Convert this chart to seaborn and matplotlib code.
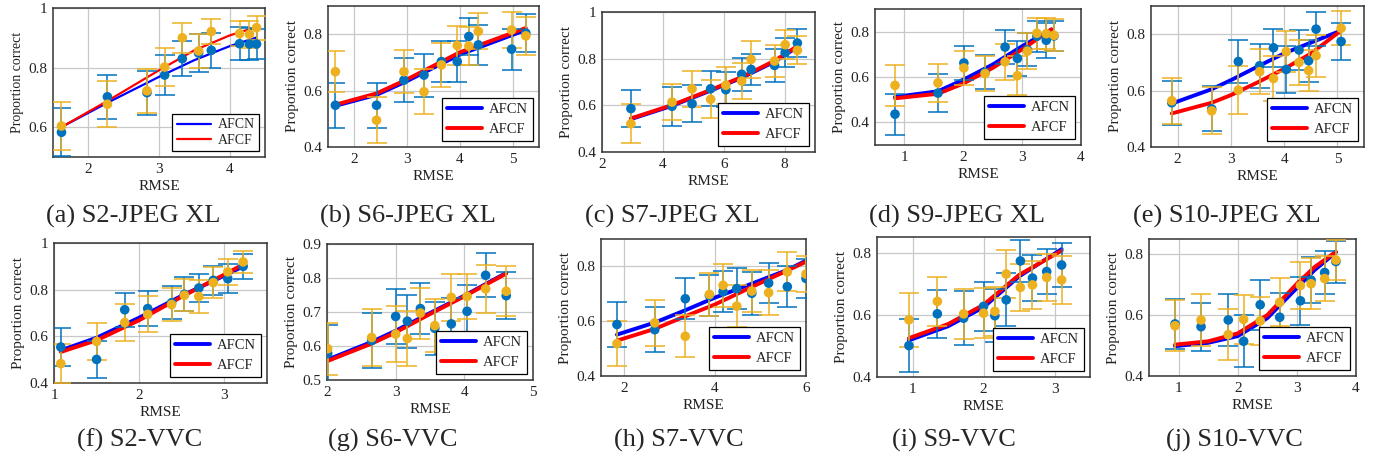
import matplotlib
matplotlib.use("Agg")
import matplotlib.pyplot as plt
from matplotlib.ticker import FuncFormatter
import seaborn as sns

# ---- data (x = RMSE, y = proportion correct) ----
a_rmse = [1.62, 2.27, 2.83, 3.08, 3.33, 3.56, 3.74, 4.14, 4.28, 4.38]
a_afcn = [0.583, 0.702, 0.716, 0.775, 0.830, 0.849, 0.858, 0.880, 0.879, 0.879]
a_afcn_err = [0.080, 0.073, 0.074, 0.067, 0.059, 0.063, 0.059, 0.055, 0.055, 0.050]
a_afcf = [0.604, 0.677, 0.722, 0.802, 0.900, 0.856, 0.921, 0.914, 0.912, 0.934]
a_afcf_err = [0.080, 0.077, 0.074, 0.063, 0.050, 0.057, 0.042, 0.042, 0.045, 0.040]
a_fit_rmse = [1.64, 2.27, 3.0, 3.5, 4.0, 4.38]
a_fit_afcn = [0.603, 0.682, 0.769, 0.825, 0.872, 0.901]
a_fit_afcf = [0.603, 0.688, 0.791, 0.858, 0.908, 0.936]

b_rmse = [1.64, 2.42, 2.94, 3.32, 3.65, 3.95, 4.17, 4.35, 4.98, 5.25]
b_afcn = [0.548, 0.548, 0.637, 0.655, 0.703, 0.703, 0.792, 0.762, 0.747, 0.804]
b_afcn_err = [0.080, 0.080, 0.078, 0.076, 0.074, 0.074, 0.065, 0.071, 0.073, 0.068]
b_afcf = [0.667, 0.495, 0.667, 0.596, 0.691, 0.760, 0.758, 0.810, 0.815, 0.794]
b_afcf_err = [0.072, 0.081, 0.077, 0.079, 0.078, 0.069, 0.067, 0.064, 0.064, 0.068]
b_fit_rmse = [1.64, 2.42, 3.0, 4.0, 5.25]
b_fit_afcn = [0.546, 0.585, 0.634, 0.728, 0.815]
b_fit_afcf = [0.550, 0.590, 0.640, 0.736, 0.822]

c_rmse = [2.95, 4.30, 4.96, 5.57, 6.07, 6.59, 6.90, 7.67, 8.02, 8.42]
c_afcn = [0.586, 0.596, 0.607, 0.671, 0.667, 0.733, 0.754, 0.771, 0.826, 0.867]
c_afcn_err = [0.081, 0.084, 0.079, 0.075, 0.076, 0.071, 0.066, 0.069, 0.063, 0.061]
c_afcf = [0.521, 0.614, 0.671, 0.626, 0.686, 0.704, 0.797, 0.790, 0.860, 0.836]
c_afcf_err = [0.084, 0.079, 0.077, 0.082, 0.079, 0.076, 0.079, 0.068, 0.061, 0.060]
c_fit_rmse = [2.95, 4.30, 5.57, 6.59, 7.67, 8.42]
c_fit_afcn = [0.541, 0.598, 0.663, 0.718, 0.787, 0.850]
c_fit_afcf = [0.544, 0.601, 0.666, 0.721, 0.791, 0.854]

d_rmse = [0.84, 1.57, 2.01, 2.37, 2.71, 2.92, 3.09, 3.25, 3.41, 3.54]
d_afcn = [0.436, 0.529, 0.662, 0.620, 0.732, 0.682, 0.720, 0.780, 0.762, 0.781]
d_afcn_err = [0.090, 0.084, 0.074, 0.075, 0.076, 0.078, 0.072, 0.068, 0.076, 0.065]
d_afcf = [0.563, 0.574, 0.640, 0.615, 0.667, 0.606, 0.714, 0.793, 0.791, 0.784]
d_afcf_err = [0.092, 0.085, 0.076, 0.078, 0.080, 0.085, 0.079, 0.069, 0.069, 0.070]
d_fit_rmse = [0.84, 1.57, 2.0, 2.5, 3.0, 3.5]
d_fit_afcn = [0.512, 0.537, 0.588, 0.655, 0.736, 0.810]
d_fit_afcf = [0.506, 0.526, 0.571, 0.640, 0.722, 0.810]

e_rmse = [1.89, 2.64, 3.14, 3.54, 3.80, 4.04, 4.28, 4.46, 4.60, 5.07]
e_afcn = [0.557, 0.535, 0.703, 0.688, 0.752, 0.675, 0.744, 0.706, 0.818, 0.774]
e_afcn_err = [0.078, 0.080, 0.077, 0.079, 0.068, 0.082, 0.071, 0.074, 0.059, 0.066]
e_afcf = [0.564, 0.528, 0.602, 0.667, 0.643, 0.738, 0.700, 0.671, 0.724, 0.821]
e_afcf_err = [0.082, 0.083, 0.084, 0.079, 0.080, 0.073, 0.079, 0.074, 0.074, 0.060]
e_fit_rmse = [1.89, 2.64, 3.0, 3.5, 4.0, 4.5, 5.07]
e_fit_afcn = [0.554, 0.605, 0.637, 0.685, 0.732, 0.770, 0.813]
e_fit_afcf = [0.519, 0.557, 0.584, 0.629, 0.677, 0.731, 0.813]

f_rmse = [1.08, 1.50, 1.83, 2.10, 2.38, 2.53, 2.70, 2.87, 3.04, 3.22]
f_afcn = [0.554, 0.501, 0.714, 0.719, 0.744, 0.780, 0.807, 0.840, 0.847, 0.900]
f_afcn_err = [0.080, 0.079, 0.073, 0.075, 0.071, 0.073, 0.062, 0.061, 0.061, 0.054]
f_afcf = [0.483, 0.578, 0.659, 0.694, 0.736, 0.776, 0.771, 0.830, 0.876, 0.919]
f_afcf_err = [0.084, 0.080, 0.079, 0.077, 0.071, 0.068, 0.071, 0.066, 0.056, 0.046]
f_fit_rmse = [1.08, 1.5, 2.0, 2.5, 3.0, 3.22]
f_fit_afcn = [0.540, 0.594, 0.680, 0.774, 0.860, 0.900]
f_fit_afcf = [0.533, 0.583, 0.669, 0.770, 0.865, 0.908]

g_rmse = [2.01, 2.65, 3.00, 3.17, 3.36, 3.57, 3.81, 4.04, 4.31, 4.61]
g_afcn = [0.578, 0.616, 0.687, 0.673, 0.710, 0.652, 0.665, 0.702, 0.808, 0.748]
g_afcn_err = [0.083, 0.081, 0.080, 0.078, 0.075, 0.078, 0.075, 0.078, 0.065, 0.070]
g_afcf = [0.592, 0.625, 0.635, 0.622, 0.697, 0.660, 0.743, 0.746, 0.768, 0.761]
g_afcf_err = [0.077, 0.085, 0.082, 0.080, 0.075, 0.078, 0.068, 0.067, 0.070, 0.074]
g_fit_rmse = [2.01, 2.65, 3.0, 3.5, 4.0, 4.61]
g_fit_afcn = [0.560, 0.612, 0.645, 0.697, 0.748, 0.815]
g_fit_afcf = [0.556, 0.607, 0.640, 0.694, 0.746, 0.813]

h_rmse = [1.85, 2.68, 3.35, 3.88, 4.18, 4.48, 4.81, 5.18, 5.59, 6.00]
h_afcn = [0.588, 0.569, 0.682, 0.694, 0.708, 0.719, 0.702, 0.739, 0.726, 0.756]
h_afcn_err = [0.082, 0.083, 0.075, 0.075, 0.075, 0.074, 0.078, 0.072, 0.074, 0.071]
h_afcf = [0.518, 0.594, 0.545, 0.698, 0.731, 0.655, 0.710, 0.704, 0.780, 0.772]
h_afcf_err = [0.083, 0.085, 0.077, 0.078, 0.079, 0.077, 0.077, 0.082, 0.071, 0.066]
h_fit_rmse = [1.85, 2.68, 3.35, 4.0, 4.81, 5.59, 6.0]
h_fit_afcn = [0.551, 0.595, 0.640, 0.686, 0.737, 0.787, 0.821]
h_fit_afcf = [0.529, 0.572, 0.618, 0.661, 0.725, 0.785, 0.817]

i_rmse = [0.95, 1.35, 1.72, 2.00, 2.16, 2.32, 2.52, 2.69, 2.89, 3.10]
i_afcn = [0.501, 0.603, 0.589, 0.627, 0.597, 0.648, 0.773, 0.718, 0.739, 0.760]
i_afcn_err = [0.084, 0.078, 0.086, 0.079, 0.086, 0.085, 0.068, 0.075, 0.073, 0.070]
i_afcf = [0.584, 0.643, 0.603, 0.605, 0.611, 0.731, 0.688, 0.696, 0.720, 0.712]
i_afcf_err = [0.087, 0.080, 0.080, 0.080, 0.078, 0.076, 0.076, 0.076, 0.075, 0.077]
i_fit_rmse = [0.95, 1.5, 2.0, 2.5, 3.1]
i_fit_afcn = [0.518, 0.563, 0.624, 0.723, 0.811]
i_fit_afcf = [0.525, 0.570, 0.632, 0.728, 0.806]

j_rmse = [0.94, 1.38, 1.84, 2.10, 2.38, 2.71, 3.06, 3.24, 3.47, 3.66]
j_afcn = [0.571, 0.562, 0.584, 0.514, 0.634, 0.593, 0.647, 0.715, 0.740, 0.776]
j_afcn_err = [0.081, 0.079, 0.085, 0.085, 0.082, 0.081, 0.079, 0.075, 0.070, 0.069]
j_afcf = [0.565, 0.584, 0.536, 0.586, 0.581, 0.642, 0.697, 0.703, 0.720, 0.781]
j_afcf_err = [0.083, 0.085, 0.085, 0.080, 0.080, 0.079, 0.077, 0.083, 0.073, 0.066]
j_fit_rmse = [0.94, 1.5, 2.0, 2.5, 3.0, 3.3, 3.66]
j_fit_afcn = [0.498, 0.509, 0.531, 0.590, 0.689, 0.748, 0.806]
j_fit_afcf = [0.503, 0.514, 0.540, 0.600, 0.703, 0.758, 0.808]

captions = ["(a) S2-JPEG XL", "(b) S6-JPEG XL", "(c) S7-JPEG XL", "(d) S9-JPEG XL",
            "(e) S10-JPEG XL", "(f) S2-VVC", "(g) S6-VVC", "(h) S7-VVC",
            "(i) S9-VVC", "(j) S10-VVC"]
series = [
    (a_rmse, a_afcn, a_afcn_err, a_afcf, a_afcf_err, a_fit_rmse, a_fit_afcn, a_fit_afcf),
    (b_rmse, b_afcn, b_afcn_err, b_afcf, b_afcf_err, b_fit_rmse, b_fit_afcn, b_fit_afcf),
    (c_rmse, c_afcn, c_afcn_err, c_afcf, c_afcf_err, c_fit_rmse, c_fit_afcn, c_fit_afcf),
    (d_rmse, d_afcn, d_afcn_err, d_afcf, d_afcf_err, d_fit_rmse, d_fit_afcn, d_fit_afcf),
    (e_rmse, e_afcn, e_afcn_err, e_afcf, e_afcf_err, e_fit_rmse, e_fit_afcn, e_fit_afcf),
    (f_rmse, f_afcn, f_afcn_err, f_afcf, f_afcf_err, f_fit_rmse, f_fit_afcn, f_fit_afcf),
    (g_rmse, g_afcn, g_afcn_err, g_afcf, g_afcf_err, g_fit_rmse, g_fit_afcn, g_fit_afcf),
    (h_rmse, h_afcn, h_afcn_err, h_afcf, h_afcf_err, h_fit_rmse, h_fit_afcn, h_fit_afcf),
    (i_rmse, i_afcn, i_afcn_err, i_afcf, i_afcf_err, i_fit_rmse, i_fit_afcn, i_fit_afcf),
    (j_rmse, j_afcn, j_afcn_err, j_afcf, j_afcf_err, j_fit_rmse, j_fit_afcn, j_fit_afcf),
]

# axis settings per panel
xlims = [(1.5, 4.5), (1.5, 5.5), (2, 9), (0.5, 4), (1.5, 5.5),
         (1, 3.5), (2, 5), (1.5, 6), (0.5, 3.5), (0.5, 4)]
ylims = [(0.5, 1), (0.4, 0.9), (0.4, 1), (0.3, 0.9), (0.4, 0.9),
         (0.4, 1), (0.5, 0.9), (0.4, 0.9), (0.4, 0.85), (0.4, 0.85)]
xticks = [[2, 3, 4], [2, 3, 4, 5], [2, 4, 6, 8], [1, 2, 3, 4], [2, 3, 4, 5],
          [1, 2, 3], [2, 3, 4, 5], [2, 4, 6], [1, 2, 3], [1, 2, 3, 4]]
yticks = [[0.6, 0.8, 1], [0.4, 0.6, 0.8], [0.4, 0.6, 0.8, 1], [0.4, 0.6, 0.8], [0.4, 0.6, 0.8],
          [0.4, 0.6, 0.8, 1], [0.5, 0.6, 0.7, 0.8, 0.9], [0.4, 0.6, 0.8], [0.4, 0.6, 0.8],
          [0.4, 0.6, 0.8]]

# axes boxes in pixels: left, right, top, bottom
boxes = [(53, 265, 8, 157), (328, 539, 6, 147), (602, 815, 12, 152), (875, 1081, 9, 145),
         (1151, 1364, 6, 147), (54, 267, 243, 383), (327, 533, 244, 380), (601, 806, 239, 376),
         (877, 1090, 237, 377), (1149, 1356, 239, 376)]
caption_pos = [(133, 216), (408, 216), (672, 216), (957, 216), (1227, 216),
               (140, 440), (393, 440), (679, 440), (954, 440), (1234, 440)]

W, H = 1384, 468
BLUE_PT = "#0072BD"
ORANGE_PT = "#EDB120"

sns.set_style("whitegrid")
plt.rcParams["font.family"] = ["Liberation Serif", "DejaVu Serif"]

fig = plt.figure(figsize=(W / 100, H / 100), dpi=100)

for k, (x, yn, en, yf, ef, fx, fn, ff) in enumerate(series):
    l, r, t, b = boxes[k]
    ax = fig.add_axes([l / W, 1 - b / H, (r - l) / W, (b - t) / H])
    lw = 1.6 if k == 0 else 2.8

    sns.lineplot(x=fx, y=fn, color="#0000FF", lw=lw, sort=False, estimator=None,
                 label="AFCN", ax=ax, zorder=2)
    sns.lineplot(x=fx, y=ff, color="#FF0000", lw=lw, sort=False, estimator=None,
                 label="AFCF", ax=ax, zorder=2)
    handles = ax.get_lines()[:2]

    ax.errorbar(x, yn, yerr=en, fmt="none", ecolor=BLUE_PT, elinewidth=1.1,
                capsize=7, capthick=1.1, zorder=3)
    sns.scatterplot(x=x, y=yn, color=BLUE_PT, s=48, edgecolor="none", ax=ax, zorder=4)
    ax.errorbar(x, yf, yerr=ef, fmt="none", ecolor=ORANGE_PT, elinewidth=1.1,
                capsize=7, capthick=1.1, zorder=3)
    sns.scatterplot(x=x, y=yf, color=ORANGE_PT, s=48, edgecolor="none", ax=ax, zorder=4)

    ax.set_xlim(*xlims[k])
    ax.set_ylim(*ylims[k])
    ax.set_xticks(xticks[k])
    ax.set_yticks(yticks[k])
    ax.yaxis.set_major_formatter(FuncFormatter(lambda v, p: f"{v:g}"))
    ax.tick_params(length=0, labelsize=11, pad=4, colors="#222222")
    ax.grid(True, color="#c8c8c8", lw=0.9)
    for s in ax.spines.values():
        s.set_color("#333333")
        s.set_linewidth(1.1)

    ax.set_xlabel("RMSE", fontsize=11, labelpad=3, color="#222222")
    ax.set_ylabel("Proportion correct", fontsize=10 if k == 0 else 11,
                  labelpad=3, color="#222222")

    leg = ax.legend(handles=handles, labels=["AFCN", "AFCF"], loc="lower right",
                    fontsize=10 if k == 0 else 10.5, frameon=True, fancybox=False,
                    edgecolor="black", framealpha=1, borderpad=0.35,
                    labelspacing=0.15 if k == 0 else 0.45,
                    handlelength=2.4, handletextpad=0.5, borderaxespad=0.4)
    leg.get_frame().set_linewidth(0.9)

    cx, cy = caption_pos[k]
    fig.text(cx / W, 1 - cy / H, captions[k], ha="center", va="center", fontsize=19)

fig.savefig("out.png", dpi=100)
